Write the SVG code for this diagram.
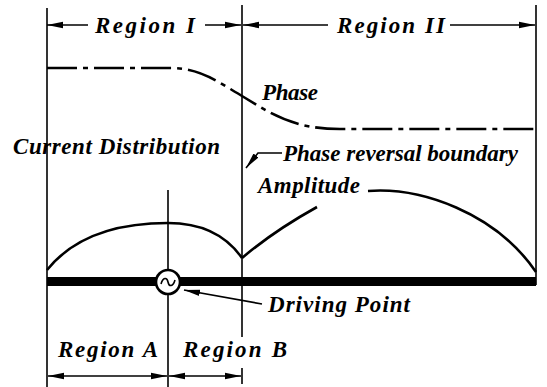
<svg xmlns="http://www.w3.org/2000/svg" width="547" height="387" viewBox="0 0 547 387">
<style>
.t{font-family:"Liberation Serif","Times New Roman",serif;font-weight:bold;font-style:italic;font-size:23px;fill:#000}
.l{stroke:#000;stroke-width:1.6;fill:none}
.c{stroke:#000;stroke-width:2.6;fill:none}
</style>
<defs>
<marker id="ah" markerUnits="userSpaceOnUse" markerWidth="17" markerHeight="8" refX="16" refY="4" orient="auto-start-reverse">
<path d="M0,0.8 L16,4 L0,7.2 Z" fill="#000"/>
</marker>
</defs>
<rect width="547" height="387" fill="#fff"/>
<g id="connectors">
<line class="l" x1="47" y1="8" x2="47" y2="387"/>
<line class="l" x1="242" y1="5" x2="242" y2="337"/>
<line class="l" x1="242" y1="368" x2="242" y2="384"/>
<line class="l" x1="536" y1="5" x2="536" y2="285"/>
<line class="l" x1="168" y1="190" x2="168" y2="387"/>
<line class="l" x1="88" y1="25" x2="47" y2="25" marker-end="url(#ah)"/>
<line class="l" x1="205" y1="25" x2="241" y2="25" marker-end="url(#ah)"/>
<line class="l" x1="328" y1="25" x2="243" y2="25" marker-end="url(#ah)"/>
<line class="l" x1="450" y1="25" x2="535" y2="25" marker-end="url(#ah)"/>
<line class="l" x1="48" y1="376" x2="167" y2="376" marker-start="url(#ah)" marker-end="url(#ah)"/>
<line class="l" x1="169" y1="376" x2="241" y2="376" marker-start="url(#ah)" marker-end="url(#ah)"/>
<path class="c" d="M47,68 L170,68 C200,68 215,80 242,96 C270,113 292,129 340,129 L536,129" stroke-dasharray="30 6 5 6"/>
<path class="c" d="M47,270 C75,235 120,223 168,223 C205,223 228,238 242,258"/>
<path class="c" d="M242,258 C262,241 290,222 317,207"/>
<path class="c" d="M368,191 C420,187 495,212 536,272"/>
<rect x="47" y="277" width="489" height="9" fill="#000"/>
<polyline class="l" points="282,153 258,153 246,168" marker-end="url(#ah)"/>
<line class="l" x1="262" y1="304" x2="184" y2="290" marker-end="url(#ah)"/>
</g>
<g id="driving-point">
<circle cx="168" cy="282" r="12" fill="#fff" stroke="#000" stroke-width="2.6"/>
<path d="M161,284 C163,277 167,277 168,282 C169,287 173,287 175,280" fill="none" stroke="#000" stroke-width="1.6"/>
</g>
<g id="labels">
<text class="t" x="95" y="33" textLength="100" lengthAdjust="spacing">Region I</text>
<text class="t" x="337" y="33" textLength="108" lengthAdjust="spacing">Region II</text>
<text class="t" x="262" y="100" textLength="56" lengthAdjust="spacing">Phase</text>
<text class="t" x="13" y="154" font-size="24" textLength="207" lengthAdjust="spacing">Current Distribution</text>
<text class="t" x="283" y="161" textLength="235" lengthAdjust="spacing">Phase reversal boundary</text>
<text class="t" x="258" y="193" textLength="102" lengthAdjust="spacing">Amplitude</text>
<text class="t" x="268" y="312" textLength="142" lengthAdjust="spacing">Driving Point</text>
<text class="t" x="58" y="357" textLength="100" lengthAdjust="spacing">Region A</text>
<text class="t" x="183" y="357" textLength="104" lengthAdjust="spacing">Region B</text>
</g>
</svg>
